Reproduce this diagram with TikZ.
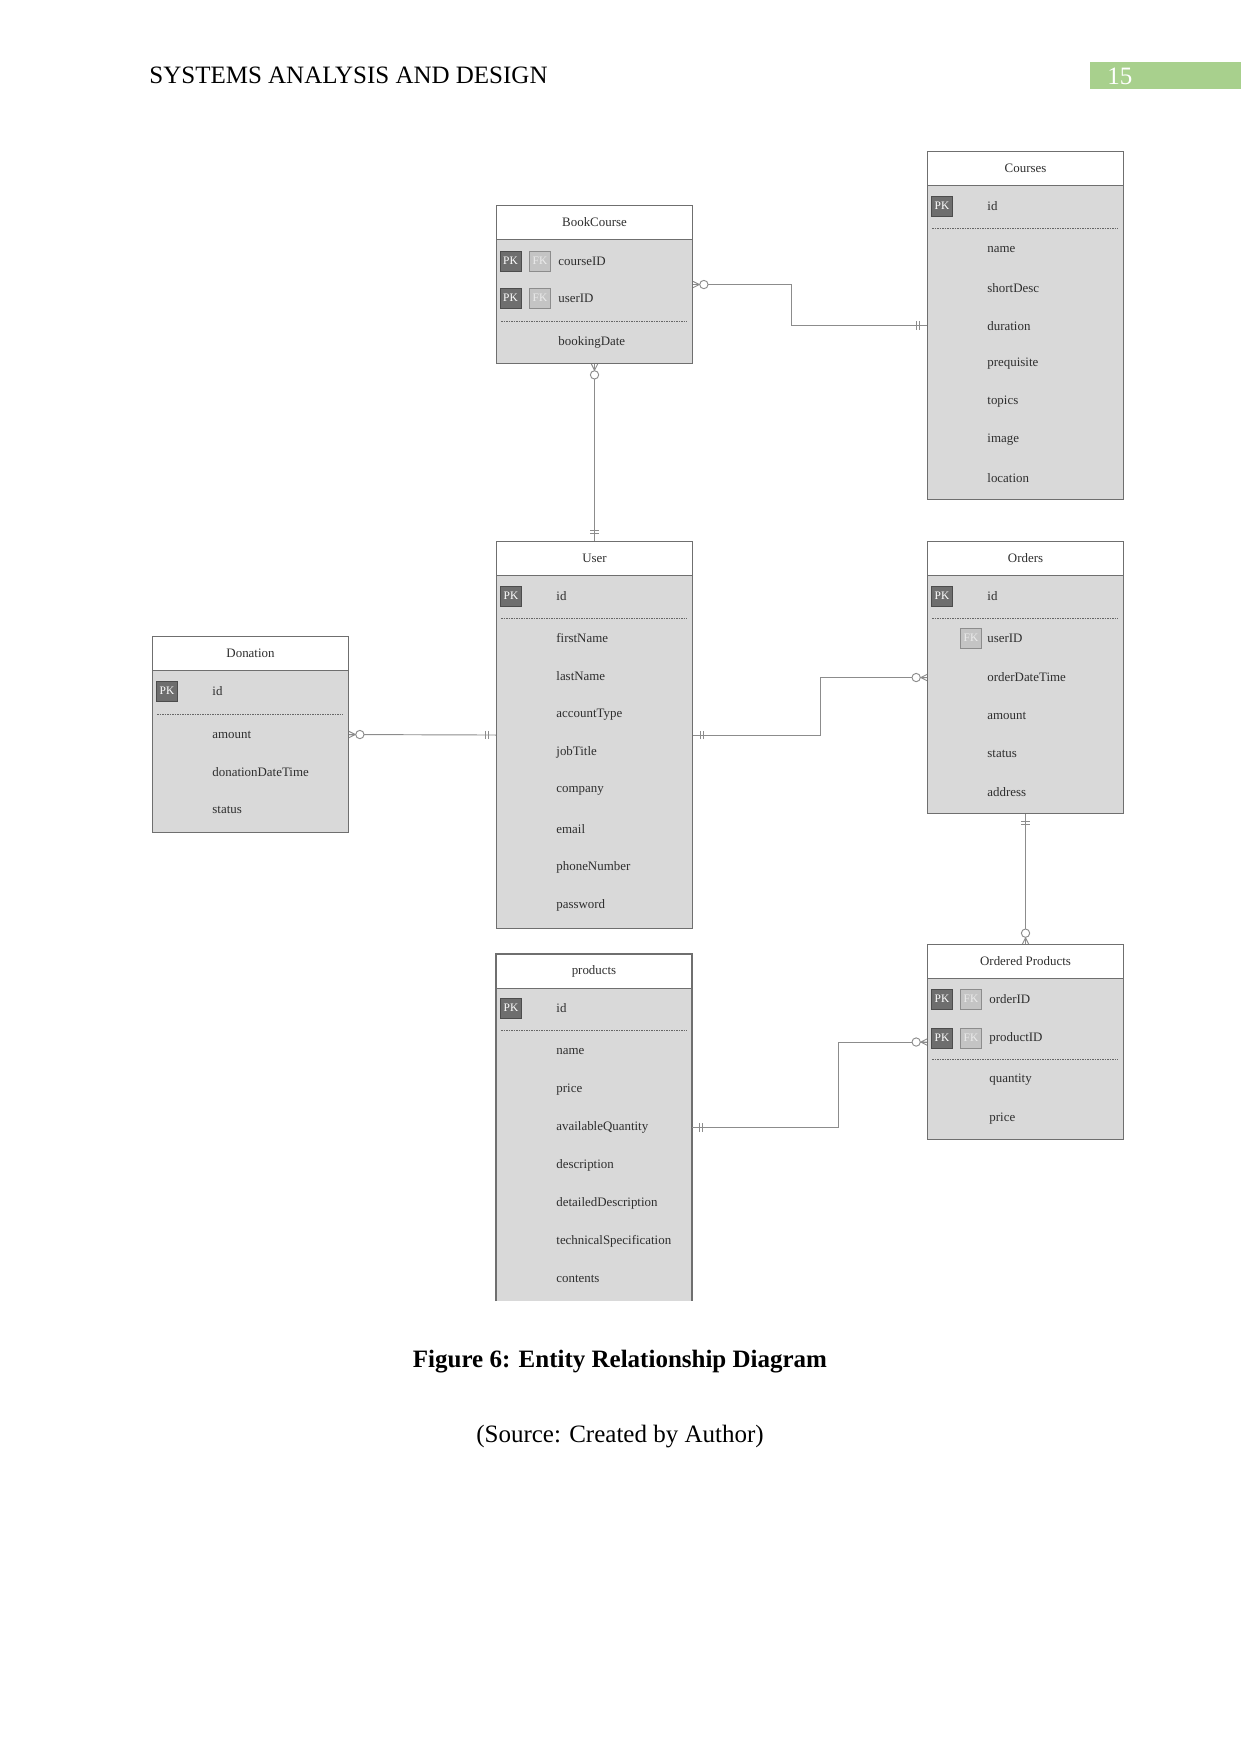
\documentclass[tikz,border=0pt]{standalone}
\usepackage{fontspec}
\setmainfont{Liberation Serif}
\usepackage{tikz}
\usetikzlibrary{positioning}

\definecolor{boxgray}{HTML}{D9D9D9}
\definecolor{linegray}{HTML}{6F6F6F}
\definecolor{wiregray}{HTML}{8C8C8C}
\definecolor{pkgray}{HTML}{6E6E6E}
\definecolor{fkgray}{HTML}{C4C4C4}
\definecolor{pagegreen}{HTML}{A8D08D}
\definecolor{txtgray}{HTML}{2E2E2E}

\newcommand{\px}{0.48pt}

\tikzset{
  entity/.style={draw=linegray, fill=boxgray, line width=0.5pt, minimum width=196*\px, inner sep=0pt, anchor=north west},
  enttitle/.style={draw=linegray, fill=white, line width=0.5pt, minimum width=196*\px, minimum height=34*\px, inner sep=0pt, anchor=north, font=\fontsize{6.2}{7}\selectfont, text=txtgray},
  attr/.style={anchor=west, inner sep=0pt, font=\fontsize{6.2}{7}\selectfont, text=txtgray},
  pk/.style={draw=black!70, fill=pkgray, text=white, minimum width=21*\px, minimum height=20*\px, inner sep=0pt, font=\fontsize{5.5}{6}\selectfont},
  fk/.style={pk, draw=black!45, fill=fkgray, text=white!92!black},
  keyline/.style={draw=black!60, line width=0.4pt, dash pattern=on 0.8pt off 0.4pt},
  wire/.style={draw=wiregray, line width=0.45pt},
  zeromany/.pic={
    \draw[wire] (0pt,1.5pt) -- (3pt,0pt) (0pt,0pt) -- (3pt,0pt) (0pt,-1.5pt) -- (3pt,0pt);
    \draw[wire, fill=white] (5.2pt,0pt) circle (2pt);
  },
  onlyone/.pic={
    \draw[wire] (3.4pt,-2pt) -- (3.4pt,2pt) (4.9pt,-2pt) -- (4.9pt,2pt);
  }
}

\begin{document}
\begin{tikzpicture}[x=0.48pt,y=-0.48pt]
\useasboundingbox (0,0) rectangle (1241,1754);

% page head
\node [anchor=west, inner sep=0pt, font=\fontsize{12}{14}\selectfont] (runhead) at (149,75) {SYSTEMS ANALYSIS AND DESIGN};
\node [fill=pagegreen, minimum width=151*\px, minimum height=27*\px, inner sep=0pt, anchor=north west] (pagebox) at (1090,62) {};
\node [anchor=west, inner sep=0pt, text=white, font=\fontsize{12}{14}\selectfont] (pageno) at (1107,76) {15};

% BookCourse
\node [entity, minimum height=158*\px] (bookcourse) at (496,205) {};
\node [enttitle] (bookcourse-title) at (bookcourse.north) {BookCourse};
\node [pk] at (510.5,261) {PK};
\node [fk] at (540,261) {FK};
\node [attr] at (558,261) {courseID};
\node [pk] at (510.5,298) {PK};
\node [fk] at (540,298) {FK};
\node [attr] at (558,298) {userID};
\draw [keyline] (501,321) -- (687,321);
\node [attr] at (558,342) {bookingDate};

% Courses
\node [entity, minimum height=348*\px] (courses) at (927,151) {};
\node [enttitle] (courses-title) at (courses.north) {Courses};
\node [pk] at (942,206) {PK};
\node [attr] at (987,206) {id};
\draw [keyline] (932,228) -- (1118,228);
\foreach \a [count=\i from 0] in {name,shortDesc,duration,prequisite,topics,image,location}
  \node [attr] at (987,{250+38*\i}) {\a};

% User
\node [entity, minimum height=387*\px] (user) at (496,541) {};
\node [enttitle] (user-title) at (user.north) {User};
\node [pk] at (511,596) {PK};
\node [attr] at (556,596) {id};
\draw [keyline] (501,618) -- (687,618);
\foreach \a [count=\i from 0] in {firstName,lastName,accountType,jobTitle,company,email,phoneNumber,password}
  \node [attr] at (556,{638+38.2*\i}) {\a};

% Orders
\node [entity, minimum height=272*\px] (orders) at (927,541) {};
\node [enttitle] (orders-title) at (orders.north) {Orders};
\node [pk] at (942,596) {PK};
\node [attr] at (987,596) {id};
\draw [keyline] (932,618) -- (1118,618);
\node [fk] at (971,638) {FK};
\node [attr] at (987,638) {userID};
\foreach \a [count=\i from 0] in {orderDateTime,amount,status,address}
  \node [attr] at (987,{677.5+38.2*\i}) {\a};

% Donation
\node [entity, minimum height=196*\px] (donation) at (152,636) {};
\node [enttitle] (donation-title) at (donation.north) {Donation};
\node [pk] at (167,691) {PK};
\node [attr] at (212,691) {id};
\draw [keyline] (157,714) -- (343,714);
\foreach \a [count=\i from 0] in {amount,donationDateTime,status}
  \node [attr] at (212,{735+37.5*\i}) {\a};

% products (no bottom edge)
\node [entity, draw=none, outer sep=0pt, minimum height=347*\px] (products) at (496,954) {};
\draw [draw=linegray, line width=0.5pt] (products.south west) -- (products.north west) -- (products.north east) -- (products.south east);
\node [enttitle] (products-title) at (products.north) {products};
\node [pk] at (511,1008) {PK};
\node [attr] at (556,1008) {id};
\draw [keyline] (501,1030) -- (687,1030);
\foreach \a [count=\i from 0] in {name,price,availableQuantity,description,detailedDescription,technicalSpecification,contents}
  \node [attr] at (556,{1052+37.9*\i}) {\a};

% Ordered Products
\node [entity, minimum height=195*\px] (ordprod) at (927,944) {};
\node [enttitle] (ordprod-title) at (ordprod.north) {Ordered Products};
\node [pk] at (942,999) {PK};
\node [fk] at (971,999) {FK};
\node [attr] at (989,999) {orderID};
\node [pk] at (942,1038) {PK};
\node [fk] at (971,1038) {FK};
\node [attr] at (989,1038) {productID};
\draw [keyline] (932,1059) -- (1118,1059);
\node [attr] at (989,1080) {quantity};
\node [attr] at (989,1119) {price};

% relationships
\draw [wire] (bookcourse.east) -- ++(98,0) |- (courses.west);
\pic at (bookcourse.east) {zeromany};
\pic [rotate=180] at (courses.west) {onlyone};

\draw [wire] (bookcourse.south) -- (user.north);
\pic [rotate=-90] at (bookcourse.south) {zeromany};
\pic [rotate=90] at (user.north) {onlyone};

\draw [wire] (donation.east) -- (user.west);
\pic at (donation.east) {zeromany};
\pic [rotate=180] at (user.west) {onlyone};

\draw [wire] (user.east) -- ++(127,0) |- (orders.west);
\pic at (user.east) {onlyone};
\pic [rotate=180] at (orders.west) {zeromany};

\draw [wire] (orders.south) -- (ordprod.north);
\pic [rotate=-90] at (orders.south) {onlyone};
\pic [rotate=90] at (ordprod.north) {zeromany};

\draw [wire] (products.east) -- ++(146,0) |- (ordprod.west);
\pic at (products.east) {onlyone};
\pic [rotate=180] at (ordprod.west) {zeromany};

% caption
\node [font=\bfseries\fontsize{12}{14}\selectfont] (caption) at (620,1362) {Figure 6: Entity Relationship Diagram};
\node [font=\fontsize{12}{14}\selectfont] (source) at (620,1437) {(Source: Created by Author)};

\end{tikzpicture}
\end{document}
